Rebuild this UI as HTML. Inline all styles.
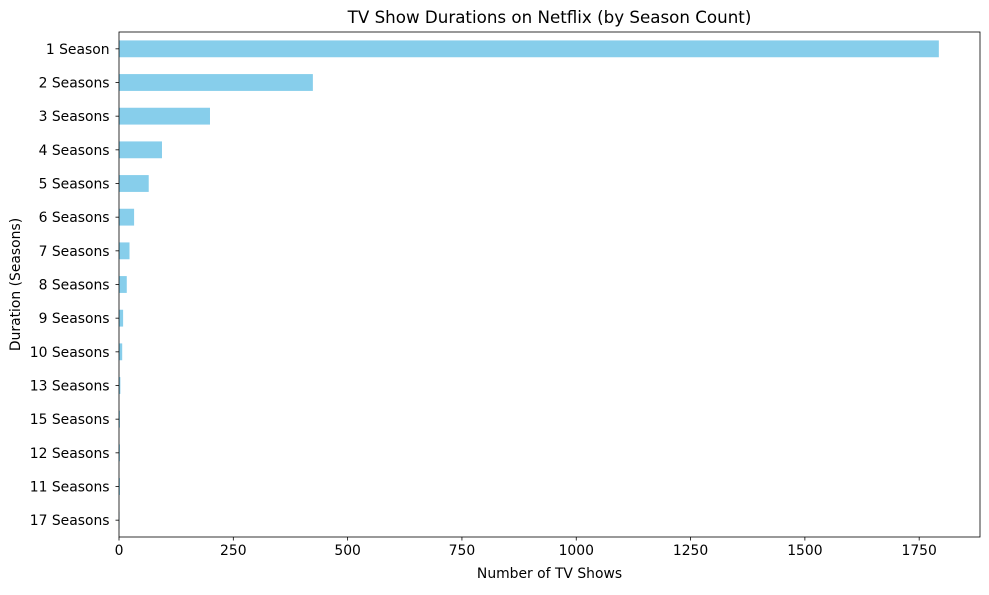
<!DOCTYPE html>
<html><head><meta charset="utf-8"><style>
body{margin:0;background:#fff;}
svg text{font-family:"DejaVu Sans","Liberation Sans",sans-serif;fill:#000;}
</style></head><body>
<svg id="chart" width="989" height="590" viewBox="0 0 989 590" xmlns="http://www.w3.org/2000/svg">
<rect width="989" height="590" fill="#fff"/>
<g id="plot"></g>
<text x="549.5" y="23" font-size="16.7" text-anchor="middle">TV Show Durations on Netflix (by Season Count)</text>
<text x="549.5" y="578" font-size="13.9" text-anchor="middle">Number of TV Shows</text>
<text transform="translate(20,284.5) rotate(-90)" font-size="13.9" text-anchor="middle">Duration (Seasons)</text>
</svg>
<script>
const categories=["1 Season","2 Seasons","3 Seasons","4 Seasons","5 Seasons","6 Seasons","7 Seasons","8 Seasons","9 Seasons","10 Seasons","13 Seasons","15 Seasons","12 Seasons","11 Seasons","17 Seasons"];
const counts=[1793,424,199,94,65,33,23,17,9,7,3,2,2,2,1];
const xTicks=[0,250,500,750,1000,1250,1500,1750];
const L=119,R=980,T=32,B=537,XMAX=1883;
const ns="http://www.w3.org/2000/svg";
const g=document.getElementById('plot');
function xs(v){return L+v/XMAX*(R-L);}
const step=(B-T)/categories.length;
function ys(i){return T+step*(i+0.5);}
function mk(t,a){const e=document.createElementNS(ns,t);for(const k in a)e.setAttribute(k,a[k]);g.appendChild(e);return e;}
counts.forEach((v,i)=>{
 const r=mk('rect',{x:xs(0),y:ys(i)-step/4,width:Math.max(0,xs(v)-xs(0)),height:step/2,fill:'#87ceeb'});
 
 
});
categories.forEach((c,i)=>{
 const y=ys(i);
 const tk=mk('line',{x1:L-3.5,x2:L,y1:y,y2:y,stroke:'#000','stroke-width':0.8});
 
 
 const t=mk('text',{x:L-9.5,y:y+5,'font-size':13.9,'text-anchor':'end'});
 t.textContent=c;
 
 
});
xTicks.forEach(v=>{
 const x=xs(v);
 const tk=mk('line',{x1:x,x2:x,y1:B,y2:B+3.5,stroke:'#000','stroke-width':0.8});
 
 
 const t=mk('text',{x:x,y:B+18,'font-size':13.9,'text-anchor':'middle'});
 t.textContent=v;
 
 
});
const fr=mk('rect',{x:L,y:T,width:R-L,height:B-T,fill:'none',stroke:'#000','stroke-width':0.8});


</script>
</body></html>
